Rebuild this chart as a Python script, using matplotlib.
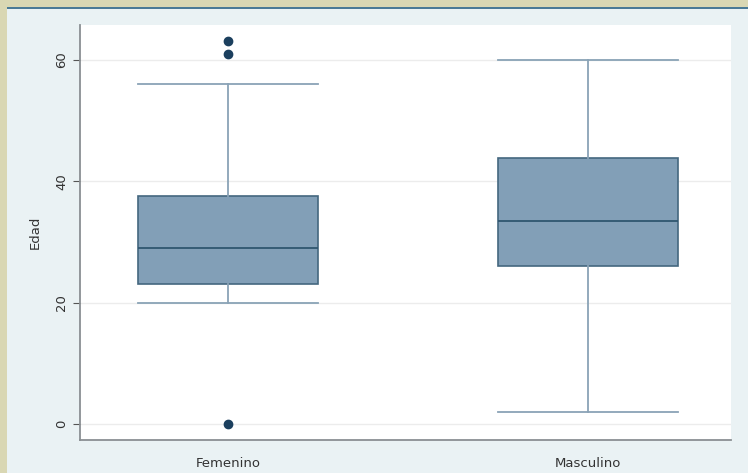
import matplotlib.pyplot as plt
from matplotlib.patches import Rectangle

# box plot summary values
groups = ["Femenino", "Masculino"]
q1 = [23, 26]
medians = [29, 33.5]
q3 = [37.6, 43.8]
whis_low = [20, 2]
whis_high = [56, 60]
outliers = [[0, 61, 63], []]

fig = plt.figure(figsize=(7.48, 4.73), dpi=100)
fig.patch.set_facecolor("#d9d7b3")
# light blue graph region with dark top line (Stata style)
fig.patches.append(Rectangle((7 / 748, 0), 1, 1 - 9 / 473, transform=fig.transFigure,
                             facecolor="#eaf2f4", edgecolor="none", zorder=-10))
fig.patches.append(Rectangle((7 / 748, 1 - 9 / 473), 1, 2 / 473, transform=fig.transFigure,
                             facecolor="#4a7a96", edgecolor="none", zorder=-10))

ax = fig.add_axes([80 / 748, 1 - 440 / 473, 651 / 748, 415 / 473])
ax.set_facecolor("white")

stats = []
for i in range(len(groups)):
    stats.append({"label": groups[i], "q1": q1[i], "med": medians[i], "q3": q3[i],
                  "whislo": whis_low[i], "whishi": whis_high[i], "fliers": outliers[i]})

ax.bxp(stats, positions=[1, 2], widths=0.5, patch_artist=True,
       boxprops=dict(facecolor="#829fb7", edgecolor="#44677f", linewidth=1.2),
       medianprops=dict(color="#2f5670", linewidth=1.3),
       whiskerprops=dict(color="#8aa3b6", linewidth=1.3),
       capprops=dict(color="#8aa3b6", linewidth=1.3),
       capwidths=0.5,
       flierprops=dict(marker="o", markersize=6, markerfacecolor="#1b3f5e",
                       markeredgecolor="#1b3f5e"))

ax.set_xlim(0.589, 2.397)
ax.set_ylim(-2.6, 65.7)
ax.set_yticks([0, 20, 40, 60])
ax.set_yticklabels(["0", "20", "40", "60"], rotation=90, va="center")
ax.grid(axis="y", color="#ececec", linewidth=1)
ax.set_axisbelow(True)
ax.set_ylabel("Edad", fontsize=9.5, color="#333333", labelpad=10)
ax.tick_params(axis="y", colors="#555555", labelcolor="#333333", labelsize=9.5, length=5)
ax.tick_params(axis="x", length=0, labelsize=9.5, labelcolor="#333333", pad=12)
for s in ["top", "right"]:
    ax.spines[s].set_visible(False)
for s in ["left", "bottom"]:
    ax.spines[s].set_color("#8a8f93")
    ax.spines[s].set_linewidth(1.3)

fig.savefig("out.png", dpi=100, facecolor=fig.get_facecolor())
